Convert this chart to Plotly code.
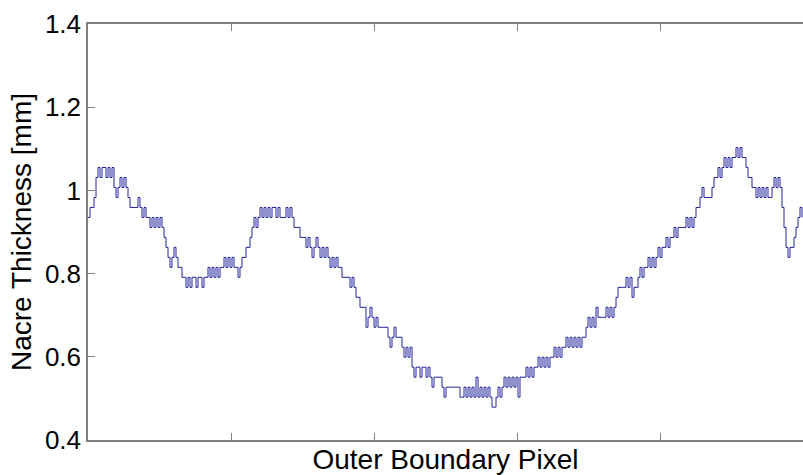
import numpy as np
import plotly.graph_objects as go

# Nacre thickness [mm] sampled along the outer boundary (every 2nd pixel)
thickness = [
    0.935, 0.959, 0.959, 0.983, 1.031, 1.055, 1.031, 1.055, 1.055, 1.031,
    1.055, 1.031, 1.055, 1.007, 0.983, 1.007, 1.031, 1.007, 1.031, 1.007,
    0.983, 0.959, 0.959, 0.959, 0.959, 0.983, 0.959, 0.935, 0.959, 0.935,
    0.935, 0.911, 0.935, 0.911, 0.935, 0.911, 0.935, 0.911, 0.887, 0.863,
    0.839, 0.815, 0.839, 0.863, 0.839, 0.815, 0.815, 0.791, 0.791, 0.767,
    0.791, 0.767, 0.791, 0.791, 0.767, 0.791, 0.791, 0.767, 0.791, 0.791,
    0.815, 0.791, 0.815, 0.791, 0.815, 0.791, 0.815, 0.815, 0.839, 0.815,
    0.839, 0.815, 0.839, 0.815, 0.815, 0.791, 0.815, 0.839, 0.839, 0.863,
    0.863, 0.887, 0.911, 0.935, 0.911, 0.935, 0.959, 0.935, 0.959, 0.935,
    0.959, 0.935, 0.959, 0.959, 0.935, 0.959, 0.935, 0.935, 0.935, 0.959,
    0.935, 0.959, 0.935, 0.911, 0.911, 0.911, 0.887, 0.887, 0.887, 0.863,
    0.887, 0.863, 0.839, 0.863, 0.887, 0.863, 0.839, 0.863, 0.839, 0.863,
    0.839, 0.815, 0.839, 0.815, 0.839, 0.815, 0.815, 0.791, 0.791, 0.791,
    0.791, 0.767, 0.791, 0.767, 0.743, 0.743, 0.719, 0.719, 0.719, 0.671,
    0.695, 0.719, 0.695, 0.671, 0.695, 0.671, 0.671, 0.671, 0.671, 0.671,
    0.647, 0.623, 0.647, 0.671, 0.647, 0.647, 0.647, 0.623, 0.599, 0.623,
    0.599, 0.623, 0.575, 0.551, 0.575, 0.575, 0.551, 0.575, 0.575, 0.551,
    0.575, 0.551, 0.527, 0.551, 0.551, 0.551, 0.551, 0.527, 0.503, 0.527,
    0.527, 0.527, 0.527, 0.527, 0.527, 0.527, 0.503, 0.503, 0.527, 0.503,
    0.527, 0.503, 0.527, 0.503, 0.551, 0.503, 0.527, 0.503, 0.527, 0.503,
    0.527, 0.503, 0.479, 0.479, 0.503, 0.527, 0.503, 0.527, 0.551, 0.527,
    0.551, 0.527, 0.551, 0.527, 0.551, 0.503, 0.551, 0.551, 0.551, 0.575,
    0.551, 0.575, 0.551, 0.575, 0.575, 0.599, 0.575, 0.599, 0.575, 0.599,
    0.575, 0.599, 0.599, 0.623, 0.599, 0.623, 0.599, 0.623, 0.623, 0.647,
    0.623, 0.647, 0.623, 0.647, 0.623, 0.647, 0.623, 0.647, 0.647, 0.671,
    0.695, 0.671, 0.695, 0.671, 0.719, 0.695, 0.695, 0.695, 0.695, 0.719,
    0.695, 0.719, 0.695, 0.719, 0.743, 0.767, 0.767, 0.767, 0.767, 0.791,
    0.767, 0.791, 0.743, 0.767, 0.767, 0.791, 0.815, 0.791, 0.815, 0.815,
    0.839, 0.815, 0.839, 0.815, 0.839, 0.863, 0.839, 0.863, 0.863, 0.887,
    0.863, 0.887, 0.887, 0.911, 0.887, 0.911, 0.911, 0.911, 0.911, 0.935,
    0.911, 0.935, 0.911, 0.935, 0.959, 0.959, 0.983, 1.007, 0.983, 0.983,
    0.983, 0.983, 1.007, 1.031, 1.031, 1.055, 1.031, 1.055, 1.079, 1.055,
    1.079, 1.055, 1.079, 1.079, 1.103, 1.079, 1.103, 1.079, 1.079, 1.055,
    1.031, 1.031, 1.007, 1.007, 0.983, 1.007, 0.983, 1.007, 0.983, 1.007,
    0.983, 0.983, 1.007, 1.031, 1.007, 1.031, 1.007, 0.959, 0.911, 0.863,
    0.839, 0.863, 0.863, 0.887, 0.911, 0.935, 0.959, 0.935,
]
pixel_step = 2
pixel = np.arange(len(thickness)) * pixel_step
x_max = 715
x_ticks = [0, 143, 286, 429, 572, 715]

y_ticks = [0.4, 0.6, 0.8, 1.0, 1.2, 1.4]
y_tick_text = ["0.4", "0.6", "0.8", "1", "1.2", "1.4"]

FONT = "Liberation Sans, Arial, sans-serif"
AXIS_COLOR = "#808080"

fig = go.Figure()
fig.add_trace(go.Scatter(
    x=pixel, y=thickness, mode="lines",
    line=dict(color="#22229c", width=1, shape="hv"),
    showlegend=False, hoverinfo="skip",
))

fig.update_layout(
    width=803, height=475,
    margin=dict(l=88, r=0, t=24, b=35),
    paper_bgcolor="white", plot_bgcolor="white",
    font=dict(family=FONT, color="black"),
    showlegend=False,
)
fig.update_xaxes(
    range=[0, x_max], tickvals=x_ticks, showticklabels=False,
    ticks="inside", ticklen=7, tickcolor=AXIS_COLOR, tickwidth=1,
    showline=True, linecolor=AXIS_COLOR, linewidth=1.5, mirror="ticks",
    showgrid=False, zeroline=False,
    title=dict(text="Outer Boundary Pixel", font=dict(size=28, family=FONT), standoff=9),
)
fig.update_yaxes(
    range=[0.4, 1.4], tickvals=y_ticks, ticktext=y_tick_text,
    tickfont=dict(size=26, family=FONT),
    ticks="inside", ticklen=7, tickcolor=AXIS_COLOR, tickwidth=1,
    showline=True, linecolor=AXIS_COLOR, linewidth=1.5, mirror=False,
    showgrid=False, zeroline=False,
    title=dict(text="Nacre Thickness [mm]", font=dict(size=28, family=FONT), standoff=5),
)

fig.write_html(
    "out.html",
    config={"displayModeBar": False},
    post_script="document.body.style.margin='0';document.body.style.overflow='hidden';",
)
